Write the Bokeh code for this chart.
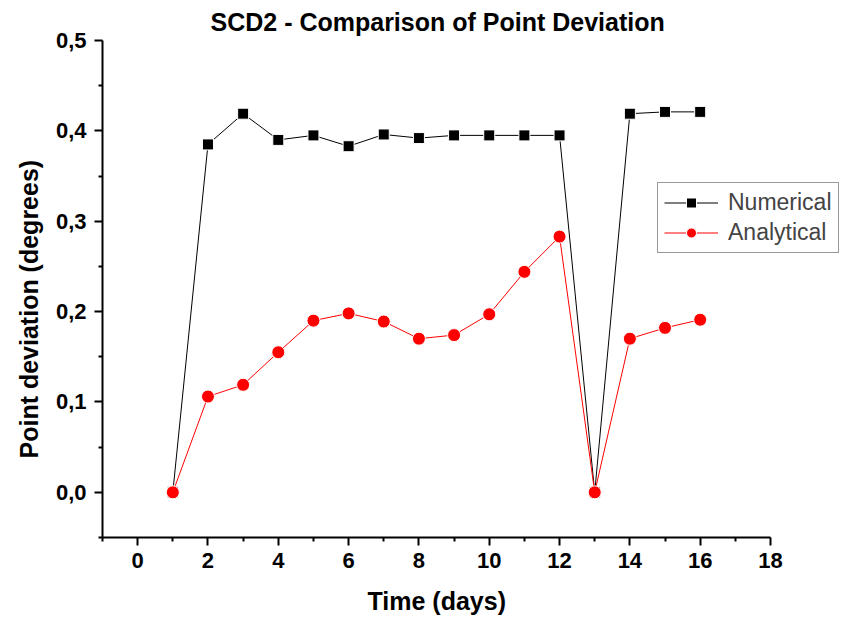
from bokeh.plotting import figure
from bokeh.models import Range1d, FixedTicker, CustomJSTickFormatter, Legend, LegendItem, Title
from bokeh.embed import file_html
from bokeh.resources import INLINE

days = [1, 2, 3, 4, 5, 6, 7, 8, 9, 10, 11, 12, 13, 14, 15, 16]
numerical = [0.0, 0.385, 0.419, 0.390, 0.395, 0.383, 0.396, 0.392, 0.395, 0.395, 0.395, 0.395, 0.0, 0.419, 0.421, 0.421]
analytical = [0.0, 0.106, 0.119, 0.155, 0.190, 0.198, 0.189, 0.170, 0.174, 0.197, 0.244, 0.283, 0.0, 0.170, 0.182, 0.191]
x_ticks = [0, 2, 4, 6, 8, 10, 12, 14, 16, 18]
x_minor = [-1, 1, 3, 5, 7, 9, 11, 13, 15, 17]
y_ticks = [0.0, 0.1, 0.2, 0.3, 0.4, 0.5]
y_minor = [-0.05, 0.05, 0.15, 0.25, 0.35, 0.45]

FONT = "Liberation Sans"
W, H = 843, 630
LEFT, TOP, BOTTOM = 102, 40, 93
X0, X1 = -1, 18          # visible x-axis extent
AXIS_PX = 668            # pixel length of the drawn x axis
x_end = X0 + (W - LEFT) * (X1 - X0) / AXIS_PX   # frame extends to the right for the legend

p = figure(width=W, height=H, output_backend="svg", toolbar_location=None,
           x_range=Range1d(X0, x_end), y_range=Range1d(-0.05, 0.5),
           title="SCD2 - Comparison of Point Deviation",
           min_border_left=LEFT, min_border_right=0, min_border_top=TOP, min_border_bottom=BOTTOM)
p.outline_line_color = None
p.grid.visible = False
p.background_fill_color = "white"
p.border_fill_color = "white"

p.title.text_font = FONT
p.title.text_font_size = "25px"
p.title.text_font_style = "bold"
p.title.text_color = "black"
p.title.align = "left"
p.title.offset = 108
p.title.standoff = 10

p.xaxis.ticker = FixedTicker(ticks=x_ticks, minor_ticks=x_minor)
p.yaxis.ticker = FixedTicker(ticks=y_ticks, minor_ticks=y_minor)
p.yaxis.formatter = CustomJSTickFormatter(code="return tick.toFixed(1).replace('.', ',');")
p.xaxis.bounds = (X0, X1)

for ax in (p.xaxis[0], p.yaxis[0]):
    ax.axis_line_width = 2
    ax.axis_line_color = "black"
    ax.major_tick_line_width = 2
    ax.minor_tick_line_width = 2
    ax.major_tick_line_color = "black"
    ax.minor_tick_line_color = "black"
    ax.major_tick_in = 0
    ax.major_tick_out = 8
    ax.minor_tick_in = 0
    ax.minor_tick_out = 4
    ax.major_label_text_font = FONT
    ax.major_label_text_font_size = "22px"
    ax.major_label_text_font_style = "bold"
    ax.major_label_text_color = "black"

p.yaxis.major_label_standoff = 8
p.xaxis.major_label_standoff = 7

xlabel = Title(text="Time (days)", align="left", offset=265, standoff=28,
               text_font=FONT, text_font_size="25px", text_font_style="bold", text_color="black")
p.add_layout(xlabel, "below")
ylabel = Title(text="Point deviation (degrees)", align="left", offset=79, standoff=20,
               text_font=FONT, text_font_size="25px", text_font_style="bold", text_color="black")
p.add_layout(ylabel, "left")

l1 = p.line(days, numerical, line_color="black", line_width=1)
s1 = p.scatter(days, numerical, marker="square", size=11, fill_color="black",
               line_color="white", line_width=1)
l2 = p.line(days, analytical, line_color="#ff0000", line_width=1)
s2 = p.scatter(days, analytical, marker="circle", size=13, fill_color="#ff0000",
               line_color="white", line_width=1)

legend = Legend(items=[LegendItem(label="Numerical", renderers=[l1, s1]),
                       LegendItem(label="Analytical", renderers=[l2, s2])],
                location=(555, 284), orientation="vertical",
                label_text_font=FONT, label_text_font_size="23px",
                glyph_width=54, glyph_height=25, label_height=25, spacing=3,
                padding=6, margin=0, label_standoff=10,
                border_line_color="#333333", border_line_width=1.5,
                background_fill_alpha=1)
p.add_layout(legend, "center")

open("out.html", "w").write(file_html(p, INLINE))
